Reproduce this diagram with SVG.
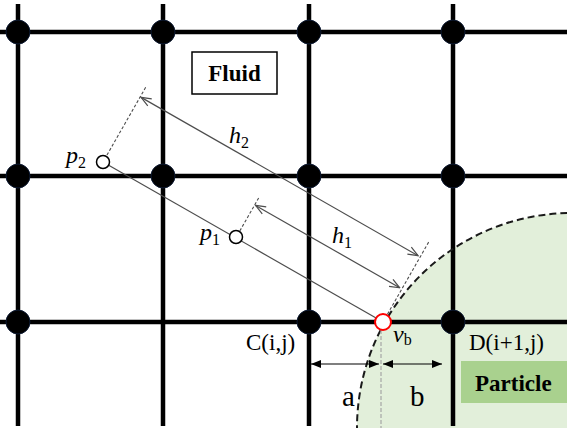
<svg xmlns="http://www.w3.org/2000/svg" width="567" height="428" viewBox="0 0 567 428">
  <defs>
    <style>
      .grid { stroke: #000; stroke-width: 4.5; fill: none; }
      .node { fill: #000; stroke: #0d1a33; stroke-width: 1; }
      .thin { stroke: #4d4d4d; stroke-width: 1.2; fill: none; }
      .perp { stroke: #4d4d4d; stroke-width: 1.1; stroke-dasharray: 3 2; fill: none; }
      .pt { fill: #fff; stroke: #000; stroke-width: 1.5; }
      .serif { font-family: "Liberation Serif", "Times New Roman", serif; fill: #000; }
      .math { font-family: "Liberation Serif", "Times New Roman", serif; font-style: italic; font-size: 24px; fill: #000; }
      .sub { font-style: normal; font-size: 16px; }
      .lbl { font-size: 23px; }
      .bold { font-weight: bold; font-size: 23px; }
      .dim { stroke: #000; stroke-width: 1.2; fill: none; }
    </style>
    <marker id="openArrow" viewBox="0 0 12 10" refX="11" refY="5" markerWidth="12" markerHeight="10" orient="auto-start-reverse" markerUnits="userSpaceOnUse">
      <path d="M1,1 L11,5 L1,9" fill="none" stroke="#4d4d4d" stroke-width="1.2"/>
    </marker>
    <marker id="solidArrow" viewBox="0 0 10 8" refX="10" refY="4" markerWidth="10" markerHeight="8" orient="auto-start-reverse" markerUnits="userSpaceOnUse">
      <path d="M0,0 L10,4 L0,8 Z" fill="#000"/>
    </marker>
  </defs>

  <rect width="567" height="428" fill="#fff"/>

  <!-- Particle region -->
  <g id="particle-region">
    <circle cx="572" cy="428" r="215" fill="#e2efda"/>
  </g>

  <!-- grid -->
  <g id="grid">
    <line class="grid" x1="0" y1="32" x2="567" y2="32"/>
    <line class="grid" x1="0" y1="176" x2="567" y2="176"/>
    <line class="grid" x1="0" y1="322" x2="567" y2="322"/>
    <line class="grid" x1="18" y1="4" x2="18" y2="426"/>
    <line class="grid" x1="163" y1="4" x2="163" y2="426"/>
    <line class="grid" x1="309" y1="4" x2="309" y2="426"/>
    <line class="grid" x1="453" y1="4" x2="453" y2="426"/>
  </g>

  <!-- particle boundary -->
  <g id="particle-boundary">
    <circle cx="572" cy="428" r="215" fill="none" stroke="#1a1a1a" stroke-width="2" stroke-dasharray="7 4"/>
    <line x1="381" y1="330" x2="381" y2="428" stroke="#a6a6a6" stroke-width="1.2" stroke-dasharray="4 2"/>
  </g>

  <!-- lattice nodes -->
  <g id="nodes">
    <circle class="node" cx="18" cy="32" r="12"/>
    <circle class="node" cx="163" cy="32" r="12"/>
    <circle class="node" cx="309" cy="32" r="12"/>
    <circle class="node" cx="453" cy="32" r="12"/>
    <circle class="node" cx="18" cy="176" r="12"/>
    <circle class="node" cx="163" cy="176" r="12"/>
    <circle class="node" cx="309" cy="176" r="12"/>
    <circle class="node" cx="453" cy="176" r="12"/>
    <circle class="node" cx="18" cy="322" r="12"/>
    <circle id="node-C" class="node" cx="309" cy="322" r="12"/>
    <circle id="node-D" class="node" cx="453" cy="322" r="12"/>
  </g>

  <!-- connectors -->
  <g id="connectors">
    <g transform="translate(103,162) rotate(29.745)">
      <line class="thin" x1="0" y1="0" x2="316" y2="0"/>
      <line class="perp" x1="0" y1="-8" x2="0" y2="-87"/>
      <line class="perp" x1="153" y1="-8" x2="153" y2="-48"/>
      <line class="perp" x1="322.5" y1="-9" x2="322.5" y2="-93"/>
      <line class="thin" x1="1" y1="-75" x2="320" y2="-75" marker-start="url(#openArrow)" marker-end="url(#openArrow)"/>
      <line class="thin" x1="154" y1="-38" x2="320" y2="-38" marker-start="url(#openArrow)" marker-end="url(#openArrow)"/>
    </g>
    <line class="dim" x1="311" y1="364" x2="379" y2="364" marker-start="url(#solidArrow)" marker-end="url(#solidArrow)"/>
    <line class="dim" x1="383" y1="364" x2="442" y2="364" marker-start="url(#solidArrow)" marker-end="url(#solidArrow)"/>
  </g>

  <!-- points -->
  <g id="p2">
    <circle class="pt" cx="103" cy="162" r="6.5"/>
    <text class="math" x="66" y="163">p<tspan class="sub" dy="5">2</tspan></text>
  </g>
  <g id="p1">
    <circle class="pt" cx="236" cy="237" r="6.5"/>
    <text class="math" x="200" y="240">p<tspan class="sub" dy="5">1</tspan></text>
  </g>
  <g id="vb">
    <circle cx="383" cy="322" r="8" fill="#fff" stroke="#ff0000" stroke-width="2"/>
    <text class="math" x="393" y="342">v<tspan class="sub" dy="3" font-style="italic">b</tspan></text>
  </g>

  <g id="h2-label">
    <text class="math" x="229" y="143">h<tspan class="sub" dy="5">2</tspan></text>
  </g>
  <g id="h1-label">
    <text class="math" x="332" y="243">h<tspan class="sub" dy="5">1</tspan></text>
  </g>

  <g id="fluid">
    <rect x="192" y="52" width="85" height="42" fill="#fff" stroke="#000" stroke-width="1.5"/>
    <text class="serif bold" x="234.5" y="81" text-anchor="middle">Fluid</text>
  </g>

  <g id="particle">
    <rect x="461" y="361" width="106" height="42" fill="#a9d18e"/>
    <text class="serif bold" x="475" y="391">Particle</text>
  </g>

  <g id="labels">
    <text class="serif lbl" x="246" y="350">C(i,j)</text>
    <text class="serif lbl" x="469" y="350">D(i+1,j)</text>
    <text class="serif" x="342" y="406" font-size="29">a</text>
    <text class="serif" x="410" y="406" font-size="29">b</text>
  </g>
</svg>
